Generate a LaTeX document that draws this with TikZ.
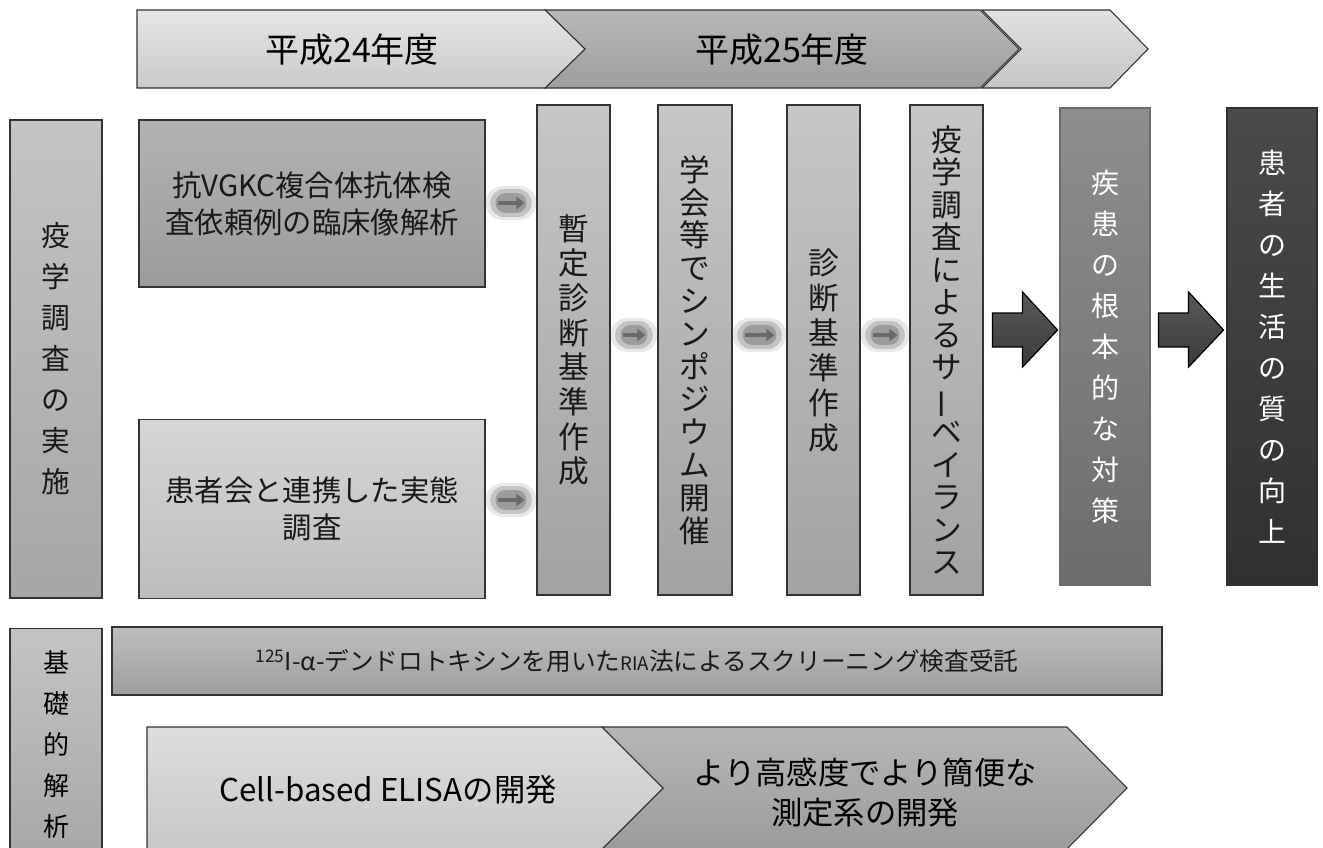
\documentclass[tikz,border=0pt]{standalone}
\usepackage{fontspec}
\usepackage{graphicx}
\setmainfont{Noto Sans CJK JP}
\usetikzlibrary{calc,arrows.meta}
\definecolor{bd}{HTML}{333333}
\definecolor{c1t}{HTML}{E6E6E6}\definecolor{c1b}{HTML}{CACACA}
\definecolor{c2t}{HTML}{B8B8B8}\definecolor{c2b}{HTML}{9E9E9E}
\definecolor{c3t}{HTML}{E0E0E0}\definecolor{c3b}{HTML}{C6C6C6}
\definecolor{epit}{HTML}{C4C4C4}\definecolor{epib}{HTML}{A6A6A6}
\definecolor{clint}{HTML}{B2B2B2}\definecolor{clinb}{HTML}{9C9C9C}
\definecolor{survt}{HTML}{D6D6D6}\definecolor{survb}{HTML}{BDBDBD}
\definecolor{vt}{HTML}{C6C6C6}\definecolor{vb}{HTML}{A2A2A2}
\definecolor{meast}{HTML}{8E8E8E}\definecolor{measb}{HTML}{6C6C6C}
\definecolor{qolt}{HTML}{4A4A4A}\definecolor{qolb}{HTML}{303030}
\definecolor{bart}{HTML}{BEBEBE}\definecolor{barb}{HTML}{9E9E9E}
\definecolor{cat}{HTML}{DDDDDD}\definecolor{cab}{HTML}{C8C8C8}
\definecolor{cbt}{HTML}{B6B6B6}\definecolor{cbb}{HTML}{9C9C9C}
\definecolor{arrt}{HTML}{5A5A5A}\definecolor{arrb}{HTML}{3A3A3A}
\definecolor{glowc}{HTML}{8C8C8C}
\definecolor{sarrc}{HTML}{6A6A6A}
\newcommand\fs[2]{\fontsize{#1}{#2}\selectfont}
\newcommand\tatebo{\rotatebox[origin=c]{90}{ー}}
\tikzset{
  box/.style={draw=bd, line width=0.8pt, inner sep=0pt, align=center, text=black!90},
  wh/.style 2 args={minimum width=#1*0.75pt, minimum height=#2*0.75pt},
  chevline/.style={draw=bd, line width=0.8pt},
  bigarr/.style={draw=black, line width=0.9pt, top color=arrt, bottom color=arrb},
  glowo/.style={draw=glowc, line width=26pt, line cap=round, opacity=0.2, shorten <=13pt, shorten >=13pt},
  glowa/.style={draw=glowc, line width=21pt, line cap=round, opacity=0.4, shorten <=14pt, shorten >=14pt},
  glowb/.style={draw=glowc, line width=15pt, line cap=round, opacity=0.7, shorten <=15pt, shorten >=15pt},
  sarrow/.style={draw=sarrc, line width=3.2pt, -{Triangle[length=6pt,width=9pt]}, shorten <=9pt, shorten >=9pt},
  lbl/.style={align=center, inner sep=0pt}
}
\newcommand\glowarr[2]{%
  \draw[glowo] #1 -- #2;
  \draw[glowa] #1 -- #2;
  \draw[glowb] #1 -- #2;
  \draw[sarrow] #1 -- #2;}
\begin{document}
\begin{tikzpicture}[x=0.75pt,y=-0.75pt]
\useasboundingbox (0,0) rectangle (1323,847);
\fill[white] (0,0) rectangle (1323,847);
\begin{scope}
\clip (0,0) rectangle (1323,847);

% ---- top timeline chevrons
\draw[chevline, top color=c3t, bottom color=c3b] (982,10) -- (1110,10) -- (1148,49) -- (1110,88) -- (982,88) -- (1021,49) -- cycle;
\draw[chevline, top color=c2t, bottom color=c2b] (545,10) -- (980,10) -- (1019,49) -- (980,88) -- (545,88) -- (585,49) -- cycle;
\draw[chevline, top color=c1t, bottom color=c1b] (137,10) -- (545,10) -- (585,49) -- (545,88) -- (137,88) -- cycle;
\node[lbl, font=\fs{25.5}{30}] (y24) at (352,50) {平成24年度};
\node[lbl, font=\fs{25.5}{30}] (y25) at (782,50) {平成25年度};

% ---- left label
\node[box, wh={92}{478}, top color=epit, bottom color=epib, font=\fs{21.5}{30.75}] (epi) at (56,359)
  {疫\\学\\調\\査\\の\\実\\施};

% ---- first stage boxes
\node[box, wh={346}{167}, top color=clint, bottom color=clinb, font=\fs{22}{27.75}] (clin) at (312,203.5)
  {抗VGKC複合体抗体検\\査依頼例の臨床像解析};
\node[box, wh={346}{179}, top color=survt, bottom color=survb, font=\fs{22}{27.75}] (pat) at (312,509)
  {患者会と連携した実態\\調査};

% ---- vertical step boxes
\node[box, wh={73}{490}, top color=vt, bottom color=vb, font=\fs{23}{26}] (prov) at (573.5,350)
  {暫\\定\\診\\断\\基\\準\\作\\成};
\node[box, wh={74}{490}, top color=vt, bottom color=vb, font=\fs{23}{24.6}] (symp) at (695,350)
  {学\\会\\等\\で\\シ\\ン\\ポ\\ジ\\ウ\\ム\\開\\催};
\node[box, wh={73}{490}, top color=vt, bottom color=vb, font=\fs{23}{26.25}] (crit) at (823.5,350)
  {診\\断\\基\\準\\作\\成};
\node[box, wh={73}{490}, top color=vt, bottom color=vb, font=\fs{23}{24.4}] (surv) at (946.5,350)
  {疫\\学\\調\\査\\に\\よ\\る\\サ\\\tatebo\\ベ\\イ\\ラ\\ン\\ス};

% ---- outcome boxes
\node[box, draw=measb, wh={90}{477}, top color=meast, bottom color=measb, text=white, font=\fs{21}{30.75}] (meas) at (1105,346.5)
  {疾\\患\\の\\根\\本\\的\\な\\対\\策};
\node[box, draw=qolb, wh={90}{477}, top color=qolt, bottom color=qolb, text=white, font=\fs{21}{30.75}] (qol) at (1272,346.5)
  {患\\者\\の\\生\\活\\の\\質\\の\\向\\上};

% ---- small glowing arrows
\glowarr{($(clin.east)+(0,-0.5)$)}{($(clin.east -| prov.west)+(0,-0.5)$)}
\glowarr{($(pat.east)+(0,-9)$)}{($(pat.east -| prov.west)+(0,-9)$)}
\glowarr{($(prov.east)+(0,-15)$)}{($(symp.west)+(0,-15)$)}
\glowarr{($(symp.east)+(0,-15)$)}{($(crit.west)+(0,-15)$)}
\glowarr{($(crit.east)+(0,-15)$)}{($(surv.west)+(0,-15)$)}

% ---- big block arrows
\coordinate (a1) at ($(surv.east)+(9,-20)$);
\draw[bigarr] (a1) ++(0,-17) -- ++(30,0) -- ++(0,-21) -- ++(35,38) -- ++(-35,37) -- ++(0,-20) -- ++(-30,0) -- cycle;
\coordinate (a2) at ($(meas.east)+(8,-16.5)$);
\draw[bigarr] (a2) ++(0,-17) -- ++(30,0) -- ++(0,-21) -- ++(35,38) -- ++(-35,37) -- ++(0,-20) -- ++(-30,0) -- cycle;

% ---- basic analysis section
\node[box, wh={92}{240}, top color=epit, bottom color=epib, anchor=north] (basic) at (56,628) {};
\node[lbl, font=\fs{19.5}{30.75}] (basict) at (56,745) {基\\礎\\的\\解\\析};
\node[box, wh={1050}{68}, top color=bart, bottom color=barb, font=\fs{18.5}{22}] (ria) at (637,661)
  {\textsuperscript{125}I-α-デンドロトキシンを用いた{\fs{14}{16}RIA}法によるスクリーニング検査受託};

\draw[chevline, top color=cbt, bottom color=cbb] (602,727) -- (1067,727) -- (1127,788) -- (1067,849) -- (602,849) -- (663,788) -- cycle;
\draw[chevline, top color=cat, bottom color=cab] (147,727) -- (602,727) -- (663,788) -- (602,849) -- (147,849) -- cycle;
\node[lbl, font=\fs{23.5}{30}] (elisa) at (388,790) {Cell-based ELISAの開発};
\node[lbl, font=\fs{23.5}{30}] (hs) at (865,793) {より高感度でより簡便な\\測定系の開発};
\end{scope}
\end{tikzpicture}
\end{document}
